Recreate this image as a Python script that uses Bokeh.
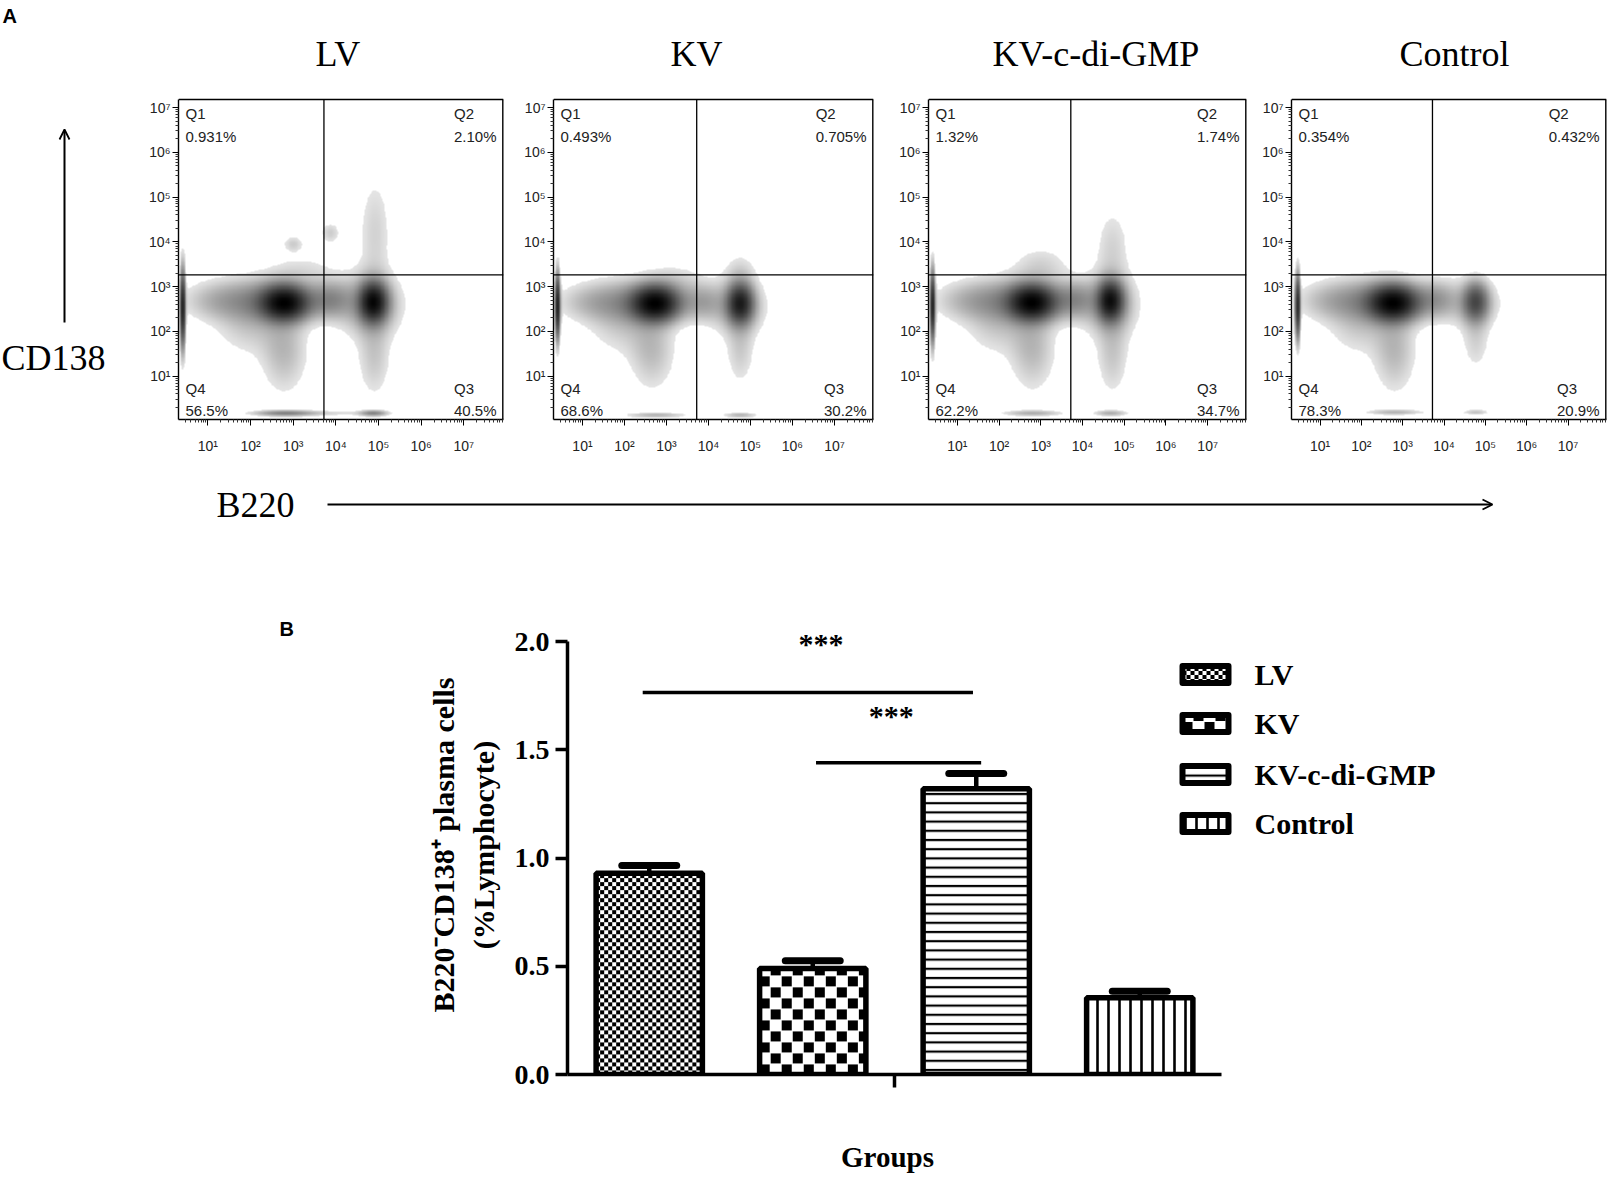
import numpy as np
from bokeh.plotting import figure
from bokeh.layouts import row, column
from bokeh.models import (Range1d, FixedTicker, LogColorMapper, Arrow, OpenHead,
                          PrintfTickFormatter)
from bokeh.embed import file_html
from bokeh.resources import INLINE
from bokeh.core.properties import value

SANS = "Liberation Sans"
SERIF = "Liberation Serif"

# ---------------- data: panel A (flow cytometry density plots) ----------------
panel_titles = ["LV", "KV", "KV-c-di-GMP", "Control"]
q1_text = ["0.931%", "0.493%", "1.32%", "0.354%"]
q2_text = ["2.10%", "0.705%", "1.74%", "0.432%"]
q3_text = ["40.5%", "30.2%", "34.7%", "20.9%"]
q4_text = ["56.5%", "68.6%", "62.2%", "78.3%"]
decades = [1, 2, 3, 4, 5, 6, 7]
decade_labels = ["10\u00b9", "10\u00b2", "10\u00b3", "10\u2074", "10\u2075", "10\u2076", "10\u2077"]
b220_range = (0.31, 7.93)      # log10 B220 extent of each plot
cd138_range = (0.03, 7.18)     # log10 CD138 extent
b220_gate = 3.72
cd138_gate = 3.26

# populations: centre (log10 B220, log10 CD138), spread, relative weight
lv_x = [2.80, 2.35, 1.20, 1.95, 2.78, 3.20, 4.88, 4.80, 4.90, 4.92, 3.85, 3.00, 3.87, 0.40, 2.80, 4.88, 3.70]
lv_y = [2.63, 2.68, 2.68, 2.05, 1.60, 3.35, 2.65, 2.60, 1.45, 4.20, 2.70, 3.95, 4.20, 2.50, 0.16, 0.16, 0.16]
lv_sx = [0.34, 0.75, 0.55, 0.50, 0.35, 0.55, 0.20, 0.45, 0.25, 0.25, 0.35, 0.15, 0.15, 0.04, 0.45, 0.20, 1.00]
lv_sy = [0.24, 0.32, 0.28, 0.40, 0.62, 0.25, 0.27, 0.45, 0.60, 0.85, 0.27, 0.12, 0.15, 0.55, 0.04, 0.04, 0.04]
lv_w = [1.00, 0.25, 0.09, 0.07, 0.12, 0.05, 0.95, 0.20, 0.09, 0.07, 0.22, 0.08, 0.08, 0.80, 0.25, 0.25, 0.06]

kv_x = [2.74, 2.30, 1.20, 1.90, 2.65, 3.20, 4.76, 4.70, 4.76, 4.76, 3.85, 0.40, 2.75, 4.76]
kv_y = [2.62, 2.65, 2.65, 2.05, 1.60, 3.15, 2.62, 2.55, 1.60, 3.30, 2.65, 2.55, 0.12, 0.12]
kv_sx = [0.34, 0.75, 0.55, 0.50, 0.35, 0.45, 0.19, 0.40, 0.22, 0.25, 0.33, 0.04, 0.45, 0.25]
kv_sy = [0.24, 0.32, 0.27, 0.40, 0.58, 0.25, 0.27, 0.40, 0.52, 0.30, 0.27, 0.45, 0.04, 0.04]
kv_w = [1.00, 0.22, 0.08, 0.06, 0.11, 0.05, 0.75, 0.16, 0.08, 0.06, 0.14, 0.80, 0.12, 0.12]

kc_x = [2.80, 2.40, 1.25, 1.95, 2.80, 3.00, 4.67, 4.65, 4.72, 4.72, 3.80, 0.40, 2.80, 4.67]
kc_y = [2.64, 2.68, 2.68, 2.05, 1.65, 3.45, 2.68, 2.60, 1.50, 3.85, 2.70, 2.55, 0.16, 0.16]
kc_sx = [0.34, 0.75, 0.55, 0.50, 0.35, 0.45, 0.19, 0.42, 0.25, 0.27, 0.33, 0.04, 0.45, 0.25]
kc_sy = [0.24, 0.32, 0.28, 0.40, 0.62, 0.30, 0.27, 0.45, 0.60, 0.60, 0.27, 0.50, 0.04, 0.04]
kc_w = [1.00, 0.25, 0.09, 0.07, 0.12, 0.07, 0.90, 0.18, 0.09, 0.07, 0.20, 0.80, 0.15, 0.15]

ct_x = [2.78, 2.40, 1.25, 1.95, 2.80, 4.77, 4.70, 4.77, 3.80, 0.45, 2.80, 4.77]
ct_y = [2.63, 2.68, 2.68, 2.05, 1.60, 2.66, 2.62, 1.80, 2.70, 2.55, 0.18, 0.18]
ct_sx = [0.36, 0.75, 0.55, 0.50, 0.33, 0.19, 0.40, 0.22, 0.33, 0.04, 0.45, 0.20]
ct_sy = [0.24, 0.32, 0.28, 0.40, 0.62, 0.27, 0.35, 0.45, 0.27, 0.45, 0.04, 0.04]
ct_w = [1.00, 0.25, 0.09, 0.07, 0.12, 0.45, 0.13, 0.07, 0.17, 0.80, 0.12, 0.10]

# ---------------- data: panel B (bar chart) ----------------
groups = ["LV", "KV", "KV-c-di-GMP", "Control"]
plasma_pct = [0.93, 0.49, 1.32, 0.355]
plasma_sem = [0.035, 0.035, 0.07, 0.03]
b_yticks = [0.0, 0.5, 1.0, 1.5, 2.0]
sig_x0 = [0.46, 1.52]
sig_x1 = [2.48, 2.53]
sig_y = [1.765, 1.44]
star_x = [1.55, 1.98]
star_y = [1.99, 1.66]
star_text = ["***", "***"]

# ---------------- helpers ----------------
grays = []
for i in range(256):
    f = i / 255.0
    lvl = int(round(228 * (1 - f ** 1.5)))
    grays.append("#%02x%02x%02x" % (lvl, lvl, lvl))
mapper = LogColorMapper(palette=grays, low=0.03, high=1.0, low_color="rgba(0,0,0,0)")


def log_minor(lo, hi):
    out = []
    for d in range(0, 8):
        for k in range(2, 10):
            m = d + np.log10(k)
            if lo < m < hi:
                out.append(float(m))
    return out


def text_w(s, size):
    wm = {".": 0.278, "%": 0.889}
    return size * sum(wm.get(c, 0.556) for c in s)


def blank(w, h, xr, yr, **kw):
    p = figure(width=w, height=h, x_range=Range1d(*xr), y_range=Range1d(*yr),
               x_axis_type=None, y_axis_type=None, output_backend="svg",
               toolbar_location=None, **kw)
    p.outline_line_color = None
    p.grid.visible = False
    return p


# ---------------- panel A ----------------
PLOT_H = 320          # height of the data area of each density plot
TOP_GAP = 99          # room above data area (titles) inside the frame
FRAME_H = PLOT_H + TOP_GAP
px_per_y = PLOT_H / (cd138_range[1] - cd138_range[0])
y_top = cd138_range[1] + TOP_GAP / px_per_y


def flow_panel(i, comps, bl, fw, br, title_dx):
    cx, cy, sx, sy, w = comps
    x0, x1 = b220_range
    y0, y1 = cd138_range
    p = figure(frame_width=fw, frame_height=FRAME_H, min_border_left=bl, min_border_right=br,
               min_border_top=0, min_border_bottom=40,
               x_range=Range1d(x0, x1), y_range=Range1d(y0, y_top),
               output_backend="svg", toolbar_location=None)
    p.grid.visible = False
    p.outline_line_color = None

    gx = np.linspace(x0, x1, 400)
    gy = np.linspace(y0, y1, 400)
    XX, YY = np.meshgrid(gx, gy)
    dens = np.zeros_like(XX)
    for a, b, c, d, e in zip(cx, cy, sx, sy, w):
        dens += e * np.exp(-0.5 * (((XX - a) / c) ** 2 + ((YY - b) / d) ** 2))
    dens /= dens.max()
    p.image(image=[dens], x=x0, y=y0, dw=x1 - x0, dh=y1 - y0, color_mapper=mapper)

    # quadrant gates and plot box
    p.segment(x0=[b220_gate, x0], y0=[y0, cd138_gate], x1=[b220_gate, x1], y1=[y1, cd138_gate],
              line_color="black", line_width=1.3)
    p.segment(x0=[x0], y0=[y1], x1=[x1], y1=[y1], line_color="black", line_width=1.4)
    p.segment(x0=[x1], y0=[y0], x1=[x1], y1=[y1], line_color="black", line_width=2.8)

    p.xaxis.ticker = FixedTicker(ticks=decades, minor_ticks=log_minor(x0, x1))
    p.yaxis.ticker = FixedTicker(ticks=decades, minor_ticks=log_minor(y0, y1))
    for ax in (p.xaxis[0], p.yaxis[0]):
        ax.major_label_overrides = {d: lab for d, lab in zip(decades, decade_labels)}
        ax.major_label_text_font = SANS
        ax.major_label_text_font_size = "14px"
        ax.major_label_text_color = "#222222"
        ax.major_tick_out = 6
        ax.major_tick_in = 0
        ax.minor_tick_out = 3
        ax.minor_tick_in = 0
        ax.axis_line_color = "black"
        ax.axis_line_width = 1.4
        ax.major_tick_line_color = "black"
        ax.minor_tick_line_color = "#333333"
    p.yaxis.bounds = (y0, y1)
    p.xaxis.major_label_standoff = 12
    p.yaxis.major_label_standoff = 2

    # title
    p.text(x=[x0], y=[y1], text=[panel_titles[i]], x_offset=[title_dx], y_offset=[-46],
           text_font=value(SERIF), text_font_size="36px", text_color="black",
           text_baseline="middle", text_align="left")

    fs = 15
    tf = value(SANS)
    common = dict(text_font=tf, text_font_size="%dpx" % fs, text_color="#222222",
                  text_baseline="middle", text_align="left")
    p.text(x=[x0, x0], y=[y1, y1], text=["Q1", q1_text[i]], x_offset=[7, 7], y_offset=[14, 37], **common)
    p.text(x=[x0, x0], y=[y0, y0], text=["Q4", q4_text[i]], x_offset=[7, 7], y_offset=[-31, -9], **common)
    w2 = text_w(q2_text[i], fs)
    w3 = text_w(q3_text[i], fs)
    p.text(x=[x1, x1], y=[y1, y1], text=["Q2", q2_text[i]], x_offset=[-7 - w2, -7 - w2],
           y_offset=[14, 37], **common)
    p.text(x=[x1, x1], y=[y0, y0], text=["Q3", q3_text[i]], x_offset=[-7 - w3, -7 - w3],
           y_offset=[-31, -9], **common)
    return p


left_strip = figure(frame_width=128, frame_height=FRAME_H, min_border_left=0, min_border_right=0,
                    min_border_top=0, min_border_bottom=40, x_range=Range1d(0, 128),
                    y_range=Range1d(FRAME_H, 0), x_axis_type=None, y_axis_type=None,
                    output_backend="svg", toolbar_location=None)
left_strip.outline_line_color = None
left_strip.grid.visible = False
left_strip.text(x=[2], y=[15], text=["A"], text_font=value(SANS), text_font_style="bold",
                text_font_size="20px", text_baseline="middle", text_align="left", text_color="black")
left_strip.text(x=[1], y=[357], text=["CD138"], text_font=value(SERIF), text_font_size="36px",
                text_baseline="middle", text_align="left", text_color="black")
left_strip.add_layout(Arrow(x_start=64, y_start=322, x_end=64, y_end=129, line_width=2,
                            end=OpenHead(size=10, line_width=1.8)))

comps = [(lv_x, lv_y, lv_sx, lv_sy, lv_w), (kv_x, kv_y, kv_sx, kv_sy, kv_w),
         (kc_x, kc_y, kc_sx, kc_sy, kc_w), (ct_x, ct_y, ct_sx, ct_sy, ct_w)]
bls = [50, 45, 50, 40]
fws = [325, 320, 318, 315]
brs = [5, 5, 5, 2]
title_dx = [137, 117, 64, 108]
flows = [flow_panel(i, comps[i], bls[i], fws[i], brs[i], title_dx[i]) for i in range(4)]
top_row = row(left_strip, *flows)

b220_strip = blank(1608, 81, (0, 1608), (540, 459), min_border=0)
b220_strip.text(x=[216], y=[504], text=["B220"], text_font=value(SERIF), text_font_size="36px",
                text_baseline="middle", text_align="left", text_color="black")
b220_strip.add_layout(Arrow(x_start=327, y_start=504, x_end=1492, y_end=504, line_width=2,
                            end=OpenHead(size=10, line_width=1.8)))

# ---------------- panel B ----------------
B_TOP, B_BOTTOM = 615, 1074           # page rows of frame top / value 0
PX_X = 163.5                           # pixels per category
PX_Y = 216.5                           # pixels per 1 % unit
B_LEFT = 567
BB = 30                                # bottom border of bar chart

b_left = figure(frame_width=420, frame_height=B_BOTTOM - B_TOP, min_border_left=0, min_border_right=0,
                min_border_top=75, min_border_bottom=BB, x_range=Range1d(0, 420),
                y_range=Range1d(B_BOTTOM, B_TOP), x_axis_type=None, y_axis_type=None,
                output_backend="svg", toolbar_location=None)
b_left.outline_line_color = None
b_left.grid.visible = False
b_left.text(x=[279], y=[628], text=["B"], text_font=value(SANS), text_font_style="bold",
            text_font_size="20px", text_baseline="middle", text_align="left", text_color="black")

pb = figure(frame_width=981, frame_height=B_BOTTOM - B_TOP, min_border_left=147, min_border_right=0,
            min_border_top=75, min_border_bottom=BB,
            x_range=Range1d(0, 981 / PX_X), y_range=Range1d(0, (B_BOTTOM - B_TOP) / PX_Y),
            output_backend="svg", toolbar_location=None)
pb.outline_line_color = None
pb.grid.visible = False


def checker_img(w_px, h_px, period, cell):
    img = np.empty((h_px, w_px), dtype=np.uint32)
    view = img.view(dtype=np.uint8).reshape((h_px, w_px, 4))
    r = np.arange(h_px)[:, None] % period
    c = np.arange(w_px)[None, :] % period
    h = period // 2
    black = ((r < cell) & (c < cell)) | ((r >= h) & (r < h + cell) & (c >= h) & (c < h + cell))
    v = np.where(black, 0, 255).astype(np.uint8)
    view[..., 0] = v
    view[..., 1] = v
    view[..., 2] = v
    view[..., 3] = 255
    return img


checker_spec = {0: (8, 4), 1: (22, 10)}
line_spec = {2: dict(hatch_pattern="horizontal_line", hatch_scale=9.2, hatch_weight=2.2),
             3: dict(hatch_pattern="vertical_line", hatch_scale=11, hatch_weight=2.6)}

BW = 0.65
bar_x = [i + 0.5 for i in range(len(groups))]
for i, g in enumerate(groups):
    if i in checker_spec:
        period, cell = checker_spec[i]
        wpx = int(round(BW * PX_X))
        hpx = max(1, int(round(plasma_pct[i] * PX_Y)))
        pb.image_rgba(image=[checker_img(wpx, hpx, period, cell)], x=bar_x[i] - BW / 2, y=0,
                      dw=BW, dh=plasma_pct[i])
        pb.vbar(x=[bar_x[i]], top=[plasma_pct[i]], bottom=0, width=BW, fill_color=None,
                line_color="black", line_width=5.5)
    else:
        pb.vbar(x=[bar_x[i]], top=[plasma_pct[i]], bottom=0, width=BW, fill_color="white",
                line_color="black", line_width=5.5, hatch_color="black", **line_spec[i])

err_top = [m + s for m, s in zip(plasma_pct, plasma_sem)]
pb.segment(x0=bar_x, y0=plasma_pct, x1=bar_x, y1=err_top, line_color="black", line_width=4.5)
pb.segment(x0=[x - 0.168 for x in bar_x], y0=err_top, x1=[x + 0.168 for x in bar_x], y1=err_top,
           line_color="black", line_width=7, line_cap="round")

pb.segment(x0=sig_x0, y0=sig_y, x1=sig_x1, y1=sig_y, line_color="black", line_width=3.5)
pb.text(x=star_x, y=star_y, text=star_text, text_font=value(SERIF), text_font_style="bold",
        text_font_size="30px", text_align="center", text_baseline="middle", text_color="black")

# legend (drawn as swatches + labels)
leg_rows_px = [674, 723, 774, 823]
sw_l, sw_r, lab_l = 1179, 1231, 1254
sw_cx = ((sw_l + sw_r) / 2 - B_LEFT) / PX_X
sw_w = (sw_r - sw_l - 6) / PX_X
sw_h = 17 / PX_Y
for i, g in enumerate(groups):
    yc = (B_BOTTOM - leg_rows_px[i]) / PX_Y
    if i in checker_spec:
        period, cell = checker_spec[i]
        pb.image_rgba(image=[checker_img(int(round(sw_w * PX_X)), 17, period, cell)],
                      x=sw_cx - sw_w / 2, y=yc - sw_h / 2, dw=sw_w, dh=sw_h)
        pb.rect(x=[sw_cx], y=[yc], width=sw_w, height=sw_h, fill_color=None,
                line_color="black", line_width=6, line_join="round")
    else:
        pb.rect(x=[sw_cx], y=[yc], width=sw_w, height=sw_h, fill_color="white",
                line_color="black", line_width=6, line_join="round", hatch_color="black",
                **line_spec[i])
    pb.text(x=[(lab_l - B_LEFT) / PX_X], y=[yc], text=[g], text_font=value(SERIF),
            text_font_style="bold", text_font_size="30px", text_align="left",
            text_baseline="middle", text_color="black")

pb.yaxis.ticker = FixedTicker(ticks=b_yticks)
pb.yaxis.formatter = PrintfTickFormatter(format="%.1f")
pb.yaxis.bounds = (0, 2)
pb.xaxis.ticker = FixedTicker(ticks=[2])
pb.xaxis.major_label_overrides = {2: ""}
pb.xaxis.major_label_text_font_size = "0px"
pb.xaxis.major_label_standoff = 0
pb.xaxis.bounds = (0, 4)
for ax in (pb.xaxis[0], pb.yaxis[0]):
    ax.axis_line_width = 3.5
    ax.axis_line_color = "black"
    ax.major_tick_line_width = 3.5
    ax.major_tick_line_color = "black"
    ax.major_tick_in = 0
    ax.minor_tick_line_color = None
    ax.major_label_text_font = SERIF
    ax.major_label_text_font_style = "bold"
    ax.major_label_text_color = "black"
    ax.axis_label_text_font = SERIF
    ax.axis_label_text_font_style = "bold"
    ax.axis_label_text_color = "black"
pb.yaxis.major_label_text_font_size = "28px"
pb.yaxis.major_tick_out = 12
pb.yaxis.major_label_standoff = 6
pb.xaxis.major_tick_out = 13
pb.yaxis.axis_label = "B220\u207bCD138\u207a plasma cells\n(%Lymphocyte)"
pb.yaxis.axis_label_text_font_size = "30px"
pb.yaxis.axis_label_standoff = 12

bottom_row = row(b_left, pb)

G_TOP = B_BOTTOM + BB          # page row where the "Groups" strip starts
G_END = 1176
groups_strip = blank(1608, G_END - G_TOP, (0, 1608), (G_END, G_TOP), min_border=0)
groups_strip.text(x=[887], y=[1156], text=["Groups"], text_font=value(SERIF), text_font_style="bold",
                  text_font_size="29px", text_baseline="middle", text_align="center",
                  text_color="black")

page = column(top_row, b220_strip, bottom_row, groups_strip)

open("out.html", "w").write(file_html(page, INLINE))
